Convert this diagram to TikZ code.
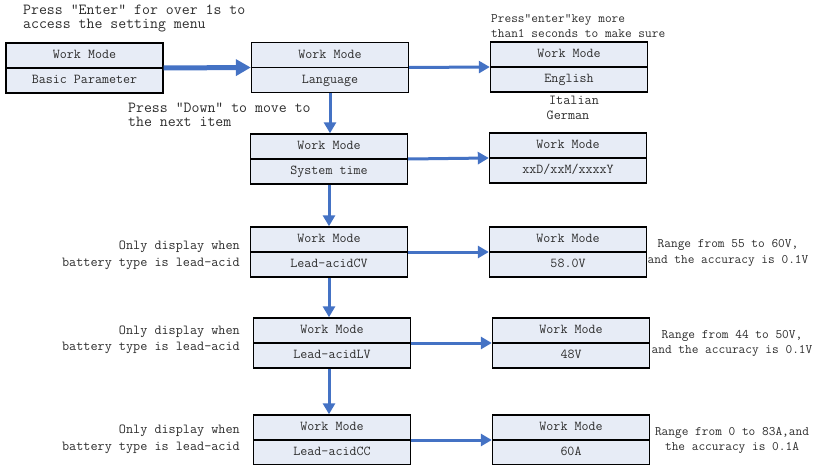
\documentclass[tikz,border=0pt]{standalone}
\usepackage{xcolor}
\usepackage{tikz}
\usetikzlibrary{shapes.multipart, arrows.meta, positioning}
\definecolor{myblue}{RGB}{68,114,196}
\definecolor{myfill}{RGB}{231,236,246}
\definecolor{mytext}{RGB}{45,45,45}
\tikzset{
  menubox/.style={rectangle split, rectangle split parts=2, draw=black, fill=myfill,
    minimum width=157pt, inner ysep=3.8pt, line width=1.4pt, text=mytext,
    font=\ttfamily\fontsize{13.6}{16}\selectfont},
  arrow/.style={-{Triangle[length=11pt, width=12pt]}, line width=3pt, color=myblue},
  bigarrow/.style={-{Triangle[length=15pt, width=16pt]}, line width=5pt, color=myblue},
  hint/.style={font=\ttfamily\fontsize{15.4}{14}\selectfont, text=mytext, inner sep=0pt},
  note/.style={font=\ttfamily\fontsize{13.8}{16.5}\selectfont, text=mytext, inner sep=0pt},
  rangenote/.style={font=\ttfamily\fontsize{13}{15.5}\selectfont, text=mytext, inner sep=0pt}
}

\begin{document}
\begin{tikzpicture}[x=1pt, y=-1pt]
  \useasboundingbox (0,0) rectangle (819,465);

  % Row 1
  \node[menubox, anchor=text split] (basic) at (84.5,68) {\strut Work Mode\nodepart{two}\strut Basic Parameter};
  \node[menubox, anchor=text split] (lang) at (330,67.5) {\strut Work Mode\nodepart{two}\strut Language};
  \node[menubox, anchor=text split] (english) at (569,67) {\strut Work Mode\nodepart{two}\strut English};
  \node[hint, anchor=west, align=left] (enterhint) at (23,18.5) {Press "Enter" for over 1s to\\access the setting menu};
  \node[hint, anchor=west, align=left] (downhint) at (128,114.5) {Press "Down" to move to\\the next item};
  \node[rangenote, anchor=west, align=left] (surehint) at (491,26) {Press“enter”key more\\than1 seconds to make sure};
  \node[note] (italian) at (574,100) {Italian};
  \node[note] (german) at (568,115) {German};

  % Row 2
  \node[menubox, anchor=text split] (systime) at (329,159) {\strut Work Mode\nodepart{two}\strut System time};
  \node[menubox, anchor=text split] (date) at (568,158) {\strut Work Mode\nodepart{two}\strut xxD/xxM/xxxxY};

  % Row 3
  \node[menubox, anchor=text split] (cv) at (329,252) {\strut Work Mode\nodepart{two}\strut Lead-acidCV};
  \node[menubox, anchor=text split] (cvval) at (568,252) {\strut Work Mode\nodepart{two}\strut 58.0V};
  \node[note, anchor=east, align=right] (cvnote) at (240,255.5) {Only display when\\battery type is lead-acid};
  \node[rangenote, align=center] (cvrange) at (728,253) {Range from 55 to 60V,\\and the accuracy is 0.1V};

  % Row 4
  \node[menubox, anchor=text split] (lv) at (332,343) {\strut Work Mode\nodepart{two}\strut Lead-acidLV};
  \node[menubox, anchor=text split] (lvval) at (571,343) {\strut Work Mode\nodepart{two}\strut 48V};
  \node[note, anchor=east, align=right] (lvnote) at (240,340) {Only display when\\battery type is lead-acid};
  \node[rangenote, align=center] (lvrange) at (732,343.5) {Range from 44 to 50V,\\and the accuracy is 0.1V};

  % Row 5
  \node[menubox, anchor=text split] (cc) at (332,440) {\strut Work Mode\nodepart{two}\strut Lead-acidCC};
  \node[menubox, anchor=text split] (ccval) at (571,440) {\strut Work Mode\nodepart{two}\strut 60A};
  \node[note, anchor=east, align=right] (ccnote) at (240,439.5) {Only display when\\battery type is lead-acid};
  \node[rangenote, align=center] (ccrange) at (732,440.5) {Range from 0 to 83A,and\\the accuracy is 0.1A};

  % Connections: to the right
  \draw[bigarrow] (basic.text split east) -- (lang.text split west);
  \draw[arrow] (lang.text split east) -- (english.text split west);
  \draw[arrow] (systime.text split east) -- (date.text split west);
  \draw[arrow] (cv.text split east) -- (cvval.text split west);
  \draw[arrow] (lv.text split east) -- (lvval.text split west);
  \draw[arrow] (cc.text split east) -- (ccval.text split west);

  % Connections: downwards
  \draw[arrow] (lang.south) -- (lang.south |- systime.north);
  \draw[arrow] (systime.south) -- (cv.north);
  \draw[arrow] (cv.south) -- (cv.south |- lv.north);
  \draw[arrow] (cv.south |- lv.south) -- (cv.south |- cc.north);
\end{tikzpicture}
\end{document}
